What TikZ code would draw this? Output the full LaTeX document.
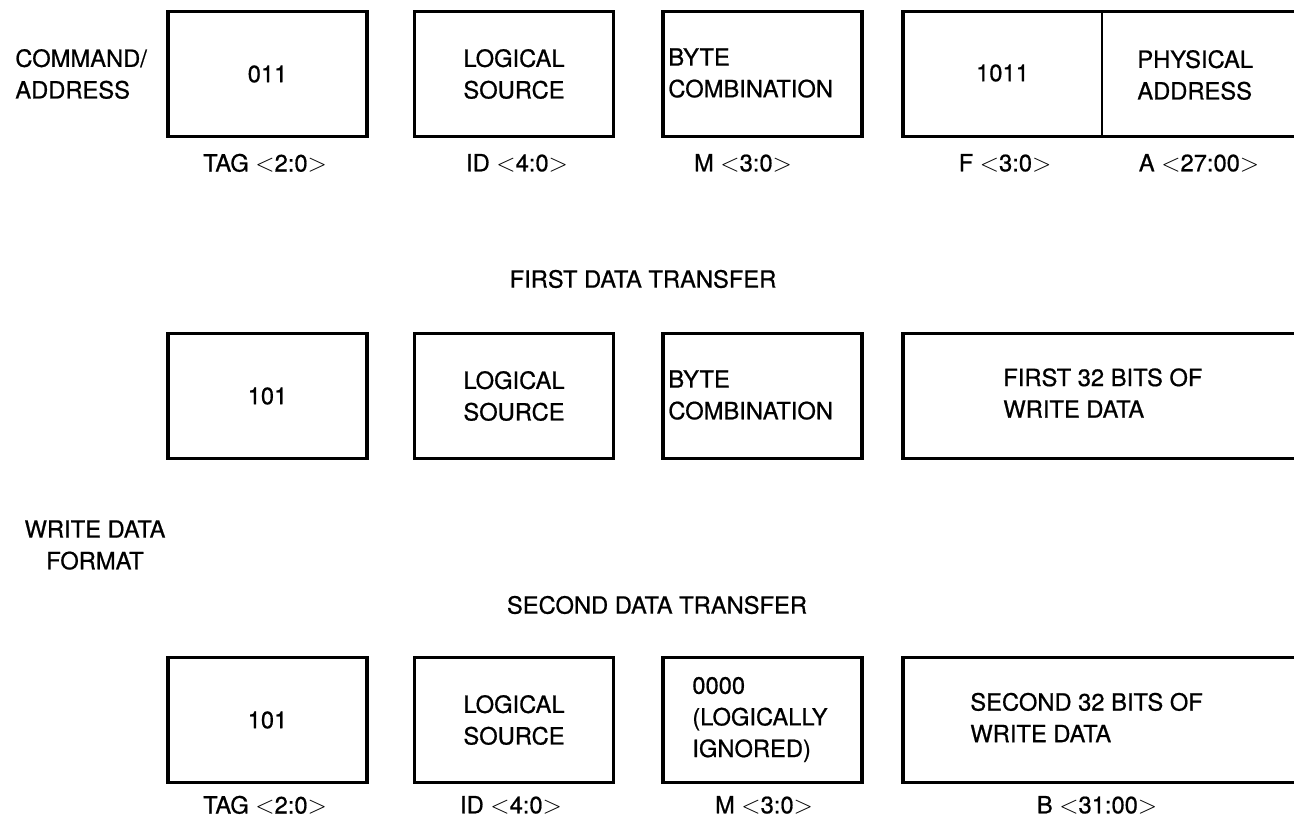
\documentclass[tikz,border=0pt]{standalone}
\usepackage{fontspec}
\setmainfont{TeX Gyre Heros}[FakeBold=0.7]
\usepackage{tikz}
\usetikzlibrary{positioning}

\newcommand{\fmtfont}{\fontsize{13.5}{18}\selectfont}
\newcommand{\bitrange}[1]{\ $<$#1$>$}

\begin{document}
\begin{tikzpicture}[
    x=0.02cm, y=-0.02cm,
    every node/.style={font=\fmtfont, inner sep=0pt},
    field/.style={draw, line width=1.8pt, minimum width=3.98cm, minimum height=2.5cm, align=center},
    wide/.style={field, minimum width=9cm},
    txt/.style={align=left, anchor=west},
    title/.style={align=center}
]
\clip (0,0) rectangle (1294,818);

% Command / address
\node[txt] (cmd) at (15,74) {COMMAND/\\ADDRESS};
\node[field] (tagA) at (267.5,74) {011};
\node[field] (srcA) at (514,74) {LOGICAL\\SOURCE};
\node[field] (combA) at (762.5,74) {};
\node[txt] (combAtxt) at (668,73) {BYTE\\COMBINATION};
\node[wide] (addrA) at (1128,74) {};
\node[minimum width=3.98cm, minimum height=2.5cm] (funcA) at (1002.5,73) {1011};
\draw[line width=1.2pt] (funcA.north east) -- (funcA.south east);
\node[txt] (addrAtxt) at (1137,75) {PHYSICAL\\ADDRESS};

\node (tagAlbl) at (265,163) {TAG\bitrange{2:0}};
\node (srcAlbl) at (517,163) {ID\bitrange{4:0}};
\node (combAlbl) at (743,163) {M\bitrange{3:0}};
\node (funcAlbl) at (1005,163) {F\bitrange{3:0}};
\node (addrAlbl) at (1199,163) {A\bitrange{27:00}};

% First data transfer
\node[title] (first) at (643,279) {FIRST DATA TRANSFER};
\node[field] (tagB) at (267.5,396) {101};
\node[field] (srcB) at (514,396) {LOGICAL\\SOURCE};
\node[field] (combB) at (762.5,396) {};
\node[txt] (combBtxt) at (668,395) {BYTE\\COMBINATION};
\node[wide] (dataB) at (1128,396) {};
\node[txt] (dataBtxt) at (1003,393) {FIRST 32 BITS OF\\WRITE DATA};

\node[title] (wdf) at (95,545) {WRITE DATA\\FORMAT};

% Second data transfer
\node[title] (second) at (657,605) {SECOND DATA TRANSFER};
\node[field] (tagC) at (267.5,720) {101};
\node[field] (srcC) at (514,720) {LOGICAL\\SOURCE};
\node[field] (combC) at (762.5,720) {};
\node[txt] (combCtxt) at (692,719.5) {0000\\(LOGICALLY\\IGNORED)};
\node[wide] (dataC) at (1128,720) {};
\node[txt] (dataCtxt) at (970,717.5) {SECOND 32 BITS OF\\WRITE DATA};

\node (tagClbl) at (265,805) {TAG\bitrange{2:0}};
\node (srcClbl) at (511,805) {ID\bitrange{4:0}};
\node (combClbl) at (764,805) {M\bitrange{3:0}};
\node (dataClbl) at (1097,805) {B\bitrange{31:00}};

\end{tikzpicture}
\end{document}
